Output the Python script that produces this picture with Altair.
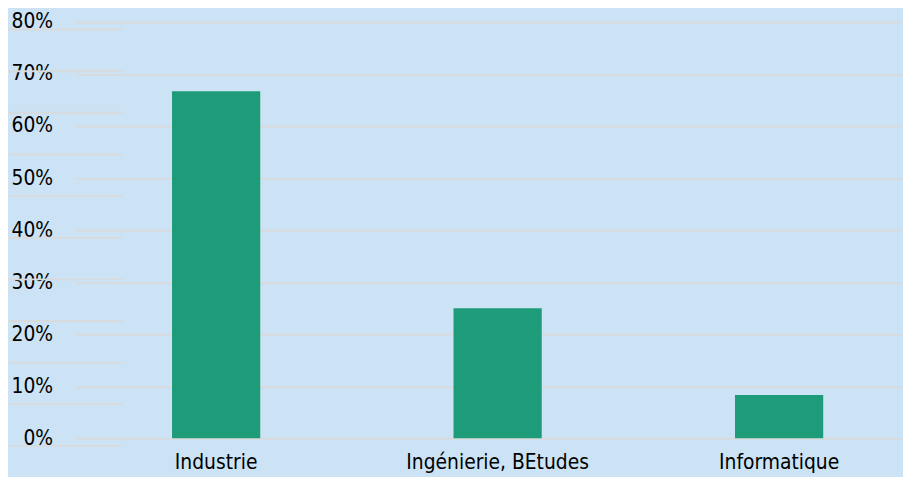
import altair as alt
import pandas as pd

categories = ["Industrie", "Ingénierie, BEtudes", "Informatique"]
shares = [0.667, 0.25, 0.083]
y_ticks = [0, 0.1, 0.2, 0.3, 0.4, 0.5, 0.6, 0.7, 0.8]
side_lines = list(range(11))

FONT = "Liberation Sans Narrow, Arial Narrow, DejaVu Sans Condensed, sans-serif"
BG = "#cce3f5"
GRID = "#d8dbdd"
BAR = "#1e9b79"

bars_df = pd.DataFrame({"cat": categories, "share": shares})
side_df = pd.DataFrame({"k": side_lines})

side = alt.Chart(side_df).mark_rule(color=GRID, strokeWidth=2).encode(
    x=alt.value(-76),
    x2=alt.value(48),
    y=alt.Y("k:Q", axis=None,
            scale=alt.Scale(domain=[0, 10], range=[427.7, 7.7], nice=False, zero=False)),
)

bars = alt.Chart(bars_df).mark_bar(color=BAR, width=89).encode(
    x=alt.X("cat:N", sort=categories, title=None,
            scale=alt.Scale(range=[0, 852], paddingInner=0, paddingOuter=0),
            axis=alt.Axis(labelAngle=0, labelFont=FONT, labelFontSize=21,
                          labelColor="#000000", labelPadding=14, labelLimit=0,
                          ticks=False, domain=False, grid=False)),
    y=alt.Y("share:Q", title=None,
            scale=alt.Scale(domain=[0, 0.8], nice=False),
            axis=alt.Axis(values=y_ticks, format=".0%", labelFont=FONT,
                          labelFontSize=21, labelColor="#000000", labelPadding=23,
                          ticks=False, domain=False, grid=True, gridColor=GRID,
                          gridWidth=2)),
)

chart = alt.layer(side, bars).resolve_scale(y="independent").properties(
    width=835, height=420,
    background=BG,
    autosize=alt.AutoSizeParams(type="none"),
    padding={"left": 68, "top": 12, "right": 0, "bottom": 37},
).configure_view(stroke=None)

chart.save("out.html", embed_options={"renderer": "svg", "actions": False})
